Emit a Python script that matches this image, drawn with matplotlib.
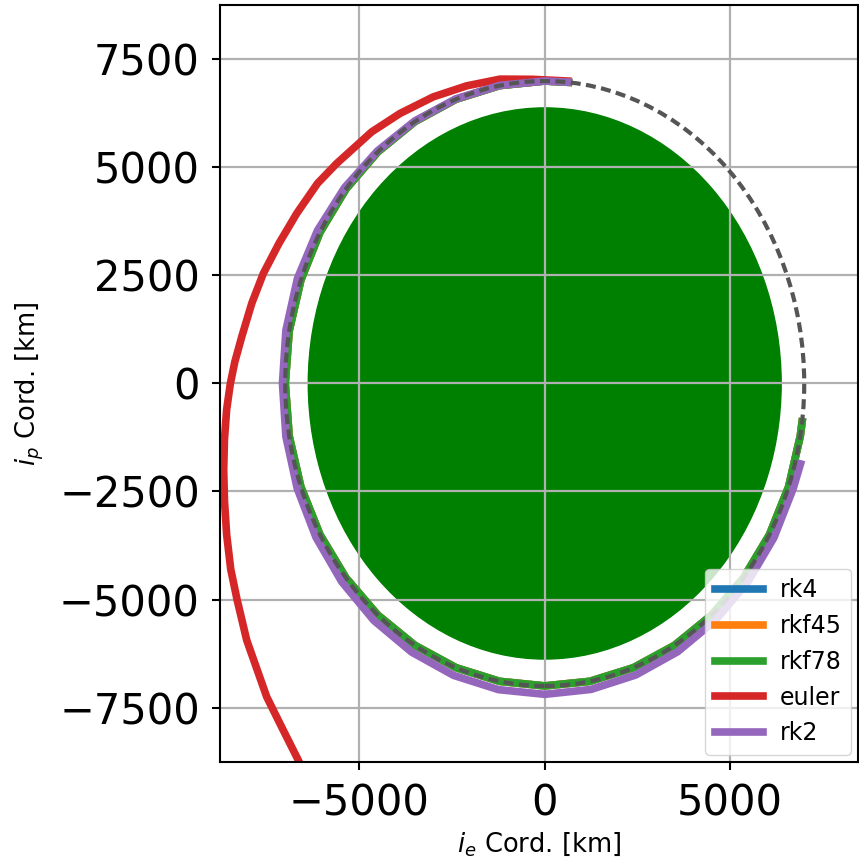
import matplotlib
matplotlib.use("Agg")
import matplotlib.pyplot as plt

# orbit data (km)
earth_radius = 6378
orbit_radius = 7000

rk_x = [640, 0, -1216, -2394, -3500, -4500, -5362, -6062, -6578, -6894, -7000,
        -6894, -6578, -6062, -5362, -4500, -3500, -2394, -1216, 0, 1216, 2394,
        3500, 4500, 5362, 6062, 6578, 6894, 6943]
rk_y = [6970, 7000, 6894, 6578, 6062, 5362, 4500, 3500, 2394, 1216, 0,
        -1216, -2394, -3500, -4500, -5362, -6062, -6578, -6894, -7000, -6894, -6578,
        -6062, -5362, -4500, -3500, -2394, -1216, -889]
rk4_x, rk4_y = rk_x, rk_y
rkf45_x, rkf45_y = rk_x, rk_y
rkf78_x, rkf78_y = rk_x, rk_y

euler_x = [620, -330, -1206, -2104, -3005, -3903, -4667, -5611, -6130, -6690,
           -7170, -7591, -7904, -8174, -8360, -8480, -8580, -8640, -8660, -8640,
           -8580, -8470, -8300, -8039, -7499, -7080, -6647, -6400]
euler_y = [7000, 7040, 7044, 6889, 6634, 6250, 5824, 5093, 4630, 3935,
           3241, 2546, 1852, 1079, 500, 0, -600, -1300, -2000, -2700,
           -3500, -4300, -5000, -5942, -7255, -7980, -8720, -9150]

rk2_x = [637, 0, -1216, -2398, -3508, -4516, -5401, -6131, -6672, -6982, -7075,
         -6982, -6677, -6170, -5473, -4606, -3590, -2459, -1249, 0, 1249, 2456,
         3585, 4602, 5477, 6183, 6700, 6900]
rk2_y = [6975, 7000, 6899, 6587, 6075, 5381, 4532, 3540, 2428, 1231, 0,
         -1231, -2430, -3563, -4593, -5489, -6218, -6756, -7086, -7195, -7081, -6747,
         -6209, -5485, -4596, -3570, -2439, -1860]

xticks = [-5000, 0, 5000]
yticks = [-7500, -5000, -2500, 0, 2500, 5000, 7500]

fig = plt.figure(figsize=(8.59, 8.6), dpi=100)
ax = fig.add_axes([0.2561, 0.114, 0.7427, 0.8802])

earth = plt.Circle((0, 0), earth_radius, color='green', zorder=1)
ax.add_patch(earth)

lw = 5.5
ax.plot(rk4_x, rk4_y, color='tab:blue', lw=lw, label='rk4')
ax.plot(rkf45_x, rkf45_y, color='tab:orange', lw=lw, label='rkf45')
ax.plot(rkf78_x, rkf78_y, color='tab:green', lw=lw, label='rkf78')
ax.plot(euler_x, euler_y, color='tab:red', lw=lw, label='euler')
ax.plot(rk2_x, rk2_y, color='tab:purple', lw=lw, label='rk2')

orbit = plt.Circle((0, 0), orbit_radius, fill=False, edgecolor='#555555',
                   lw=3, linestyle=(0, (2.4, 1.3)), zorder=3)
ax.add_patch(orbit)

ax.set_xlim(-8760, 8450)
ax.set_ylim(-8760, 8760)
ax.set_xticks(xticks)
ax.set_yticks(yticks)
ax.tick_params(labelsize=30, length=6, width=1.5, pad=8.5)
for s in ax.spines.values():
    s.set_linewidth(1.5)
ax.grid(True, color='#b0b0b0', lw=1.6)

ax.set_xlabel(r'$i_e$ Cord. [km]', fontsize=18.5, labelpad=4)
ax.set_ylabel(r'$i_p$ Cord. [km]', fontsize=18.5, labelpad=9)

ax.legend(loc='lower right', fontsize=17, handlelength=2.05,
          handletextpad=0.7, labelspacing=0.5, borderaxespad=0.3)

fig.savefig('out.png', dpi=100)
